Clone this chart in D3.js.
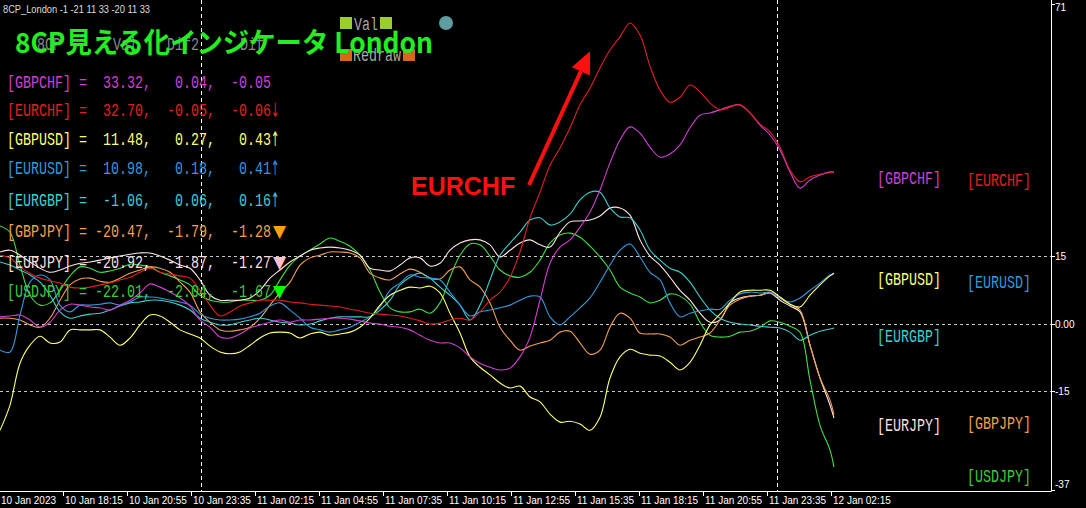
<!DOCTYPE html>
<html><head><meta charset="utf-8">
<script src="https://cdn.jsdelivr.net/npm/d3@7"></script>
<style>html,body{margin:0;padding:0;background:#000;overflow:hidden}</style>
</head><body>
<svg id="c" width="1086" height="508"></svg>
<script>
// ---------- data ----------
const pairs = ["GBPCHF","EURCHF","GBPUSD","EURUSD","EURGBP","GBPJPY","EURJPY","USDJPY"];
const pairColors = ["#d23fd2","#e02020","#ffff70","#3399dd","#3fcfcf","#f0a050","#ffdede","#3ccc3c"];
const lineColors = ["#d23fd2","#e02020","#ffff70","#3399dd","#3fcfcf","#f0a050","#ffe4e4","#44dd44"];
const tableVal  = [33.32, 32.70, 11.48, 10.98, -1.06, -20.47, -20.92, -22.01];
const tableDif2 = [0.04, -0.05, 0.27, 0.18, 0.06, -1.79, -1.87, -2.04];
const tableDif  = [-0.05, -0.06, 0.43, 0.41, 0.16, -1.28, -1.27, -1.67];
const tableMark = ["", "↓", "↑", "↑", "↑", "▼", "▼", "▼"];
const markColors = ["", "#e02020", "#ffff70", "#3399dd", "#3fcfcf", "#ffa010", "#ffc0cb", "#00ff00"];

const startTime = new Date(2023, 0, 10, 15, 37, 30);
const barMinutes = 5;
const barIdx = [...d3.range(0, 420, 5), 417];

const sGBPCHF = [1.5,1.7,1.9,0.8,-0.8,0.3,3.0,4.3,4.1,3.7,
 3.5,3.0,4.1,5.2,6.8,8.8,8.1,7.0,5.7,3.9,
 0.8,-0.8,-3.0,-3.2,-2.3,-1.0,-0.3,0.3,0.8,0.3,
 0.8,0.8,1.0,1.2,1.2,1.0,0.6,0.1,-0.1,-0.6,
 -0.8,-1.4,-2.6,-3.7,-4.3,-4.3,-5.4,-7.4,-8.8,-9.7,
 -10.3,-9.9,-7.4,-3.0,5.2,13.4,17.0,18.6,21.4,24.8,
 29.7,35.7,40.8,43.7,42.3,39.2,37.0,37.7,39.7,43.5,
 46.3,46.8,47.5,48.3,48.6,46.8,44.1,41.9,38.6,33.7,
 30.1,31.9,33.0,33.7,33.7];
const sEURCHF = [15.2,14.6,12.6,11.2,10.1,9.5,9.0,8.1,7.9,8.1,
 8.6,9.0,9.7,10.3,11.4,12.3,11.4,11.0,10.6,10.1,
 7.4,4.1,1.7,2.6,3.9,4.6,5.2,5.2,5.2,4.8,
 4.6,4.3,4.1,3.9,3.7,3.2,2.8,2.3,2.1,1.9,
 1.7,1.2,0.6,-0.1,0.1,0.8,1.2,0.8,2.6,5.2,
 7.0,10.3,15.9,23.5,29.2,35.2,39.0,43.5,48.6,52.3,
 56.8,60.8,63.7,66.8,64.1,57.2,51.9,49.2,50.3,53.0,
 51.5,49.0,47.5,48.1,48.6,46.8,44.3,42.6,39.2,34.1,
 31.5,32.6,33.2,33.5,33.5];
const sGBPUSD = [-23.7,-18.1,-8.8,-4.8,-2.8,-4.3,-4.1,-1.4,-1.4,-1.4,
 -1.4,-3.0,-4.8,-3.2,-0.3,1.9,1.7,0.3,-1.4,-2.3,
 -3.2,-5.0,-6.3,-6.7,-6.3,-4.8,-3.2,-2.1,-1.9,-2.1,
 -3.2,-2.3,-1.9,-2.6,-2.3,-1.9,-0.8,1.2,4.1,6.3,
 7.4,8.1,7.9,8.3,6.8,2.3,-2.1,-7.4,-9.7,-11.4,
 -13.2,-14.3,-13.9,-16.3,-17.4,-20.1,-21.9,-21.7,-22.3,-23.7,
 -20.8,-12.1,-7.4,-5.7,-6.6,-7.0,-7.2,-8.6,-10.3,-8.6,
 -4.8,-0.3,2.1,4.6,7.0,7.4,7.4,7.4,5.9,4.3,
 3.7,6.3,8.6,10.6,11.2];
const sEURUSD = [-5.9,-6.3,1.9,9.2,10.8,9.7,4.1,2.6,4.1,4.1,
 4.3,4.6,4.1,4.8,5.9,5.9,5.7,5.2,4.8,4.1,
 2.1,1.2,0.8,0.8,1.0,1.5,2.3,3.9,4.6,3.0,
 1.2,-0.8,-1.4,-1.9,-1.4,-0.8,0.3,1.5,3.7,7.4,
 9.0,10.8,10.3,10.1,9.7,7.0,4.1,1.7,2.6,3.0,
 3.5,4.1,5.2,6.1,5.9,1.5,-0.3,1.5,3.5,5.7,
 9.2,13.0,16.3,17.7,14.8,11.4,9.7,4.6,1.5,2.3,
 2.8,3.2,3.2,5.2,6.6,7.0,6.8,7.0,5.7,4.8,
 5.7,7.4,9.0,10.8,11.2];
const sEURGBP = [13.7,13.0,11.9,10.8,9.2,6.3,2.6,1.2,1.7,2.1,
 2.3,3.0,3.9,4.6,4.8,5.2,5.2,4.8,4.1,3.0,
 1.2,0.3,-0.3,-0.3,0.3,0.8,1.2,0.8,0.3,0.1,
 -0.3,-0.1,0.6,1.2,1.5,1.5,1.5,1.5,3.0,5.2,
 8.6,10.3,11.2,10.1,8.1,6.3,4.1,0.8,4.1,9.7,
 15.2,17.9,20.3,23.0,23.5,21.9,22.6,24.3,27.5,29.2,
 29.2,25.7,23.7,23.5,20.8,16.3,14.1,12.3,11.4,9.2,
 5.9,3.0,1.2,0.3,-0.1,-0.3,-0.6,-0.8,-1.0,-1.9,
 -3.7,-2.6,-1.7,-1.2,-1.0];
const sGBPJPY = [1.2,1.2,0.8,-0.3,-0.8,1.2,5.2,8.6,9.9,10.1,
 9.4,9.2,10.1,11.2,11.9,12.6,12.3,11.4,9.2,7.0,
 2.6,0.3,-1.4,-1.7,-1.4,-0.8,1.2,4.1,6.8,9.2,
 13.0,14.6,15.2,15.9,15.9,15.7,14.6,11.2,10.1,9.7,
 11.0,12.1,11.4,10.1,9.9,11.9,12.6,9.7,8.1,4.6,
 -0.8,-3.7,-5.9,-5.0,-4.3,-3.7,-1.9,-1.7,-4.3,-6.8,
 -5.9,-0.8,2.3,1.2,-2.1,-2.3,-2.3,-3.0,-4.8,-3.7,
 -3.0,-2.1,0.8,4.1,5.4,6.1,6.3,6.8,5.7,4.3,
 3.0,-4.8,-12.1,-17.0,-20.3];
const sEURJPY = [15.9,16.3,15.2,13.7,12.3,11.4,11.9,12.8,13.4,13.7,
 14.1,14.6,15.0,15.4,15.7,15.7,15.0,14.1,13.0,12.3,
 9.7,6.3,5.2,5.2,5.2,5.7,7.4,10.1,11.9,13.7,
 15.0,16.3,16.8,17.0,16.8,16.3,15.2,12.3,11.9,11.7,
 13.0,14.6,14.6,12.8,13.4,16.3,17.9,18.6,18.6,17.5,
 14.8,16.3,17.9,18.6,17.5,17.0,20.3,22.6,22.8,23.0,
 23.9,25.7,25.7,24.1,18.6,15.0,13.0,10.3,7.4,5.2,
 2.3,0.3,0.8,4.6,5.7,6.1,6.3,6.8,5.2,3.9,
 2.6,-4.8,-12.1,-18.1,-21.0];
const sUSDJPY = [21.7,20.3,13.0,6.3,4.1,4.6,7.4,10.6,12.6,12.3,
 11.4,11.7,12.3,13.2,13.0,12.6,11.4,10.6,9.7,8.6,
 6.3,5.2,4.8,4.8,5.2,5.2,5.2,6.3,9.7,13.0,
 15.0,16.3,17.7,19.0,18.3,17.2,15.2,11.9,7.0,3.5,
 2.6,2.6,3.2,2.3,4.6,10.3,15.2,17.7,17.5,15.0,
 11.9,10.6,10.3,11.4,14.1,17.9,19.7,20.1,19.2,17.2,
 14.8,11.9,8.1,6.8,5.9,4.6,5.2,6.6,6.1,4.3,
 0.3,-2.6,-3.0,-2.8,-1.9,-1.7,-0.8,0.6,0.3,-0.6,
 -1.9,-12.6,-22.6,-28.1,-31.9];
const seriesList = [sGBPCHF, sEURCHF, sGBPUSD, sEURUSD, sEURGBP, sGBPJPY, sEURJPY, sUSDJPY];

const yTickValues = [71, 15, 0, -15, -37];
const yTickLabels = ["71", "15", "0.00", "-15", "-37"];
const gridValues = [15, 0, -15];
const xTickTimes = [
  new Date(2023,0,10,15,35), new Date(2023,0,10,18,15), new Date(2023,0,10,20,55), new Date(2023,0,10,23,35),
  new Date(2023,0,11,2,15), new Date(2023,0,11,4,55), new Date(2023,0,11,7,35), new Date(2023,0,11,10,15),
  new Date(2023,0,11,12,55), new Date(2023,0,11,15,35), new Date(2023,0,11,18,15), new Date(2023,0,11,20,55),
  new Date(2023,0,11,23,35), new Date(2023,0,12,2,15)];
const xTickLabels = ["10 Jan 2023","10 Jan 18:15","10 Jan 20:55","10 Jan 23:35","11 Jan 02:15","11 Jan 04:55",
  "11 Jan 07:35","11 Jan 10:15","11 Jan 12:55","11 Jan 15:35","11 Jan 18:15","11 Jan 20:55","11 Jan 23:35","12 Jan 02:15"];
const daySeparators = [new Date(2023,0,11,0,0), new Date(2023,0,12,0,0)];

// right-side labels: [pair index, column, value]
const endLabelRows = [[0,0,32.3],[1,1,31.8],[2,0,9.8],[3,1,9.3],[4,0,-2.8],[6,0,-22.6],[5,1,-22.2],[7,1,-33.9]];

// ---------- layout ----------
const W = 1086, H = 508, plotR = 1051, plotB = 491;
const svg = d3.select("#c");
svg.append("rect").attr("width", W).attr("height", H).attr("fill", "#000");

const barTime = b => new Date(startTime.getTime() + b * barMinutes * 60000);
const x = d3.scaleTime().domain([startTime, barTime(525.5)]).range([0, plotR]);
const y = d3.scaleLinear().domain([-37.2, 71.9]).range([plotB, 0]);

// grid
svg.append("g").selectAll("line").data(gridValues).join("line")
  .attr("x1", 0).attr("x2", plotR).attr("y1", d => Math.round(y(d)) + 0.5).attr("y2", d => Math.round(y(d)) + 0.5)
  .attr("stroke", "#c8c8c8").attr("stroke-dasharray", "3,3").attr("stroke-width", 1);
svg.append("g").selectAll("line").data(daySeparators).join("line")
  .attr("x1", d => Math.round(x(d)) + 0.5).attr("x2", d => Math.round(x(d)) + 0.5).attr("y1", 0).attr("y2", plotB)
  .attr("stroke", "#ffffff").attr("stroke-dasharray", "4,3").attr("stroke-width", 1);

// lines
const lineGen = d3.line().curve(d3.curveCatmullRom.alpha(0.5))
  .x((d, i) => x(barTime(barIdx[i]))).y(d => y(d));
const drawOrder = [7, 6, 5, 4, 3, 2, 0, 1];
svg.append("g").selectAll("path").data(drawOrder).join("path")
  .attr("d", k => lineGen(seriesList[k]))
  .attr("fill", "none").attr("stroke", k => lineColors[k]).attr("stroke-width", 1.1);

// axes
svg.append("line").attr("x1", plotR + 0.5).attr("x2", plotR + 0.5).attr("y1", 0).attr("y2", plotB + 0.5)
  .attr("stroke", "#fff");
svg.append("line").attr("x1", 0).attr("x2", plotR + 0.5).attr("y1", plotB + 0.5).attr("y2", plotB + 0.5)
  .attr("stroke", "#fff");
const yAx = svg.append("g");
yAx.selectAll("line").data(yTickValues).join("line")
  .attr("x1", plotR).attr("x2", plotR + 4)
  .attr("y1", d => Math.min(plotB, Math.max(1, Math.round(y(d)))) + 0.5)
  .attr("y2", d => Math.min(plotB, Math.max(1, Math.round(y(d)))) + 0.5)
  .attr("stroke", "#fff");
yAx.selectAll("text").data(yTickValues).join("text")
  .attr("x", plotR + 4)
  .attr("y", d => Math.min(488, Math.max(11, y(d) + 4)))
  .attr("fill", "#fff").attr("font-family", "Liberation Sans, Arial, sans-serif").attr("font-size", 10)
  .text((d, i) => yTickLabels[i]);
const xAx = svg.append("g");
xAx.selectAll("line").data(xTickTimes).join("line")
  .attr("x1", d => Math.round(x(d)) + 0.5).attr("x2", d => Math.round(x(d)) + 0.5)
  .attr("y1", plotB).attr("y2", plotB + 5).attr("stroke", "#fff");
xAx.selectAll("text").data(xTickTimes).join("text")
  .attr("x", d => Math.max(1, x(d) + 2)).attr("y", 504)
  .attr("fill", "#fff").attr("font-family", "Liberation Sans, Arial, sans-serif").attr("font-size", 10)
  .text((d, i) => xTickLabels[i]);

// ---------- texts ----------
const mono = "Liberation Mono, DejaVu Sans Mono, monospace";
function monoText(g, str, px, py, color) {
  return g.append("text").attr("x", px).attr("y", py).attr("fill", color)
    .attr("font-family", mono).attr("font-size", 18)
    .attr("textLength", str.length * 8).attr("lengthAdjust", "spacingAndGlyphs")
    .attr("xml:space", "preserve").style("white-space", "pre").text(str);
}

// top-left caption
svg.append("text").attr("x", 3).attr("y", 13).attr("fill", "#ddd")
  .attr("font-family", "Liberation Sans, Arial, sans-serif").attr("font-size", 10)
  .attr("textLength", 147).attr("lengthAdjust", "spacingAndGlyphs")
  .text("8CP_London -1 -21 11 33 -20 11 33");

// dim header row (partly hidden under the title, as in the original)
const hdr = svg.append("g");
monoText(hdr, "8CP", 37, 50, "#8a8a8a");
monoText(hdr, "Val", 113, 50, "#8a8a8a");
monoText(hdr, "Dif2", 167, 50, "#8a8a8a");
monoText(hdr, "Dif", 240, 50, "#8a8a8a");

// Val / Redraw buttons
svg.append("rect").attr("x", 340).attr("y", 17).attr("width", 12).attr("height", 12).attr("fill", "#9acd32");
svg.append("rect").attr("x", 380).attr("y", 17).attr("width", 12).attr("height", 12).attr("fill", "#9acd32");
monoText(svg, "Val", 354, 30, "#a8a8a8");
svg.append("rect").attr("x", 340).attr("y", 49).attr("width", 12).attr("height", 12).attr("fill", "#d2691e");
svg.append("rect").attr("x", 403).attr("y", 49).attr("width", 12).attr("height", 12).attr("fill", "#d2691e");
monoText(svg, "Redraw", 353, 61, "#a8a8a8");
svg.append("circle").attr("cx", 446).attr("cy", 23).attr("r", 7).attr("fill", "#5f9ea0");

// big title
svg.append("text").attr("x", 15).attr("y", 53).attr("fill", "#22ee22")
  .attr("font-family", "Noto Sans CJK JP, Noto Sans, sans-serif").attr("font-weight", "bold").attr("font-size", 28)
  .attr("textLength", 418).attr("lengthAdjust", "spacingAndGlyphs")
  .text("8CP見える化インジケータ London");

// table
const rowY = [82, 110, 139, 168, 200, 231, 262, 291];
const p6 = v => v.toFixed(2).padStart(6);
const tbl = svg.append("g");
pairs.forEach((p, i) => {
  const s = `[${p}] = ${p6(tableVal[i])}, ${p6(tableDif2[i])}, ${p6(tableDif[i])}`;
  monoText(tbl, s, 7, rowY[i] + 6, pairColors[i]);
  if (tableMark[i] === "▼") {
    tbl.append("text").attr("x", 273).attr("y", rowY[i] + 6).attr("fill", markColors[i])
      .attr("font-family", "DejaVu Sans, sans-serif").attr("font-size", 17).text("▼");
  } else if (tableMark[i]) {
    tbl.append("text").attr("transform", `translate(271,${rowY[i] + 7}) scale(0.5,1)`)
      .attr("fill", markColors[i])
      .attr("font-family", "DejaVu Sans, sans-serif").attr("font-size", 20).text(tableMark[i]);
  }
});

// right-side pair labels
const colX = [877, 967];
const lbl = svg.append("g");
endLabelRows.forEach(([k, c, v]) => {
  monoText(lbl, `[${pairs[k]}]`, colX[c], y(v) + 6, pairColors[k]);
});

// annotation
const annFrom = [264.5, 30.8], annTip = [295, 60.5];
const ax1 = x(barTime(annFrom[0])), ay1 = y(annFrom[1]);
const ax2 = x(barTime(annTip[0])), ay2 = y(annTip[1]);
const len = Math.hypot(ax2 - ax1, ay2 - ay1);
const ux = (ax2 - ax1) / len, uy = (ay2 - ay1) / len;
const bx = ax2 - 22 * ux, by = ay2 - 22 * uy;
svg.append("line").attr("x1", ax1).attr("y1", ay1).attr("x2", bx).attr("y2", by)
  .attr("stroke", "#ff1010").attr("stroke-width", 4);
svg.append("polygon").attr("points",
  [[ax2, ay2], [bx - 10 * uy, by + 10 * ux], [bx + 10 * uy, by - 10 * ux]].map(p => p.join(",")).join(" "))
  .attr("fill", "#ff1010");
svg.append("text").attr("x", x(barTime(205.5))).attr("y", y(28.6)).attr("fill", "#ff1010")
  .attr("font-family", "Liberation Sans, Arial, sans-serif").attr("font-weight", "bold").attr("font-size", 25)
  .text("EURCHF");
</script>
</body></html>
